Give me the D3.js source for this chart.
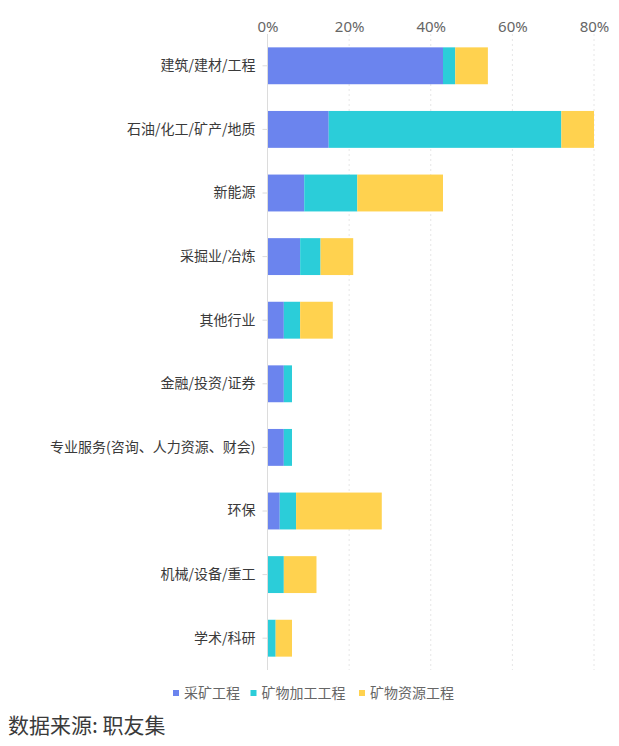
<!DOCTYPE html>
<html><head><meta charset="utf-8">
<script src="https://cdn.jsdelivr.net/npm/d3@7/dist/d3.min.js"></script>
<style>body{margin:0;background:#fff;}svg{display:block;font-family:"Noto Sans CJK SC","Noto Sans",sans-serif;}</style>
</head><body><svg id="c" width="619" height="746"></svg>
<script>
const categories = ["建筑/建材/工程","石油/化工/矿产/地质","新能源","采掘业/冶炼","其他行业","金融/投资/证券","专业服务(咨询、人力资源、财会)","环保","机械/设备/重工","学术/科研"];
const seriesNames = ["采矿工程","矿物加工工程","矿物资源工程"];
const mining =     [43, 15, 9, 8, 4, 4, 4, 3, 0, 0];
const processing = [3, 57, 13, 5, 4, 2, 2, 4, 4, 2];
const resources =  [8, 8, 21, 8, 8, 0, 0, 21, 8, 4];
const tickValues = [0, 20, 40, 60, 80];
const colors = ["#6b84ee", "#2bcdd9", "#ffd24f"];

(function () {
const svg = d3.select("#c");
const pLeft = 267.5, pRight = 594, pTop = 34, pBottom = 670;
const x = d3.scaleLinear().domain([0, 80]).range([pLeft, pRight]);
const y = d3.scaleBand().domain(categories).range([pTop, pBottom]).paddingInner(0.42).paddingOuter(0.21);

// grid
svg.append("g").selectAll("line").data(tickValues.filter(d => d > 0)).join("line")
  .attr("x1", d => x(d)).attr("x2", d => x(d)).attr("y1", pTop).attr("y2", pBottom)
  .attr("stroke", "#e6e6e6").attr("stroke-dasharray", "2,3");

// top axis
const xAxis = svg.append("g").attr("transform", `translate(0,${pTop})`)
  .call(d3.axisTop(x).tickValues(tickValues).tickFormat(d => d + "%").tickSize(0).tickPadding(2));
xAxis.select(".domain").remove();
xAxis.selectAll("text").attr("font-size", 15).attr("fill", "#666").attr("font-family", "'Noto Sans','Noto Sans CJK SC',sans-serif");

// stacked data
const rows = categories.map((c, i) => ({cat: c, v: [mining[i], processing[i], resources[i]]}));
const stack = d3.stack().keys([0, 1, 2]).value((d, k) => d.v[k])(rows);
svg.append("g").selectAll("g").data(stack).join("g").attr("fill", (d, i) => colors[i])
  .selectAll("rect").data(d => d).join("rect")
  .attr("x", d => x(d[0])).attr("width", d => x(d[1]) - x(d[0]))
  .attr("y", d => y(d.data.cat)).attr("height", y.bandwidth());

// left axis
const yAxis = svg.append("g").attr("transform", `translate(${pLeft},0)`)
  .call(d3.axisLeft(y).tickSize(5).tickPadding(7));
yAxis.select(".domain").attr("stroke", "#dcdcdc").attr("d", `M0,${pTop}V${pBottom}`);
yAxis.selectAll(".tick line").attr("stroke", "#dcdcdc");
yAxis.selectAll("text").attr("font-size", 14).attr("fill", "#3a3a3a").attr("font-family", "'Noto Sans CJK SC',sans-serif");

// legend
const legendX = [173, 250.5, 359];
const lg = svg.append("g").selectAll("g").data(seriesNames).join("g")
  .attr("transform", (d, i) => `translate(${legendX[i]},693)`);
lg.append("rect").attr("x", 0).attr("y", -3).attr("width", 6).attr("height", 6).attr("fill", (d, i) => colors[i]);
lg.append("text").attr("x", 11).attr("dy", "0.35em").attr("font-size", 14).attr("fill", "#666").text(d => d);

// source
svg.append("text").attr("x", 8).attr("y", 733).attr("font-size", 21).attr("fill", "#3a3a3a").text("数据来源: 职友集");
})();
</script></body></html>
